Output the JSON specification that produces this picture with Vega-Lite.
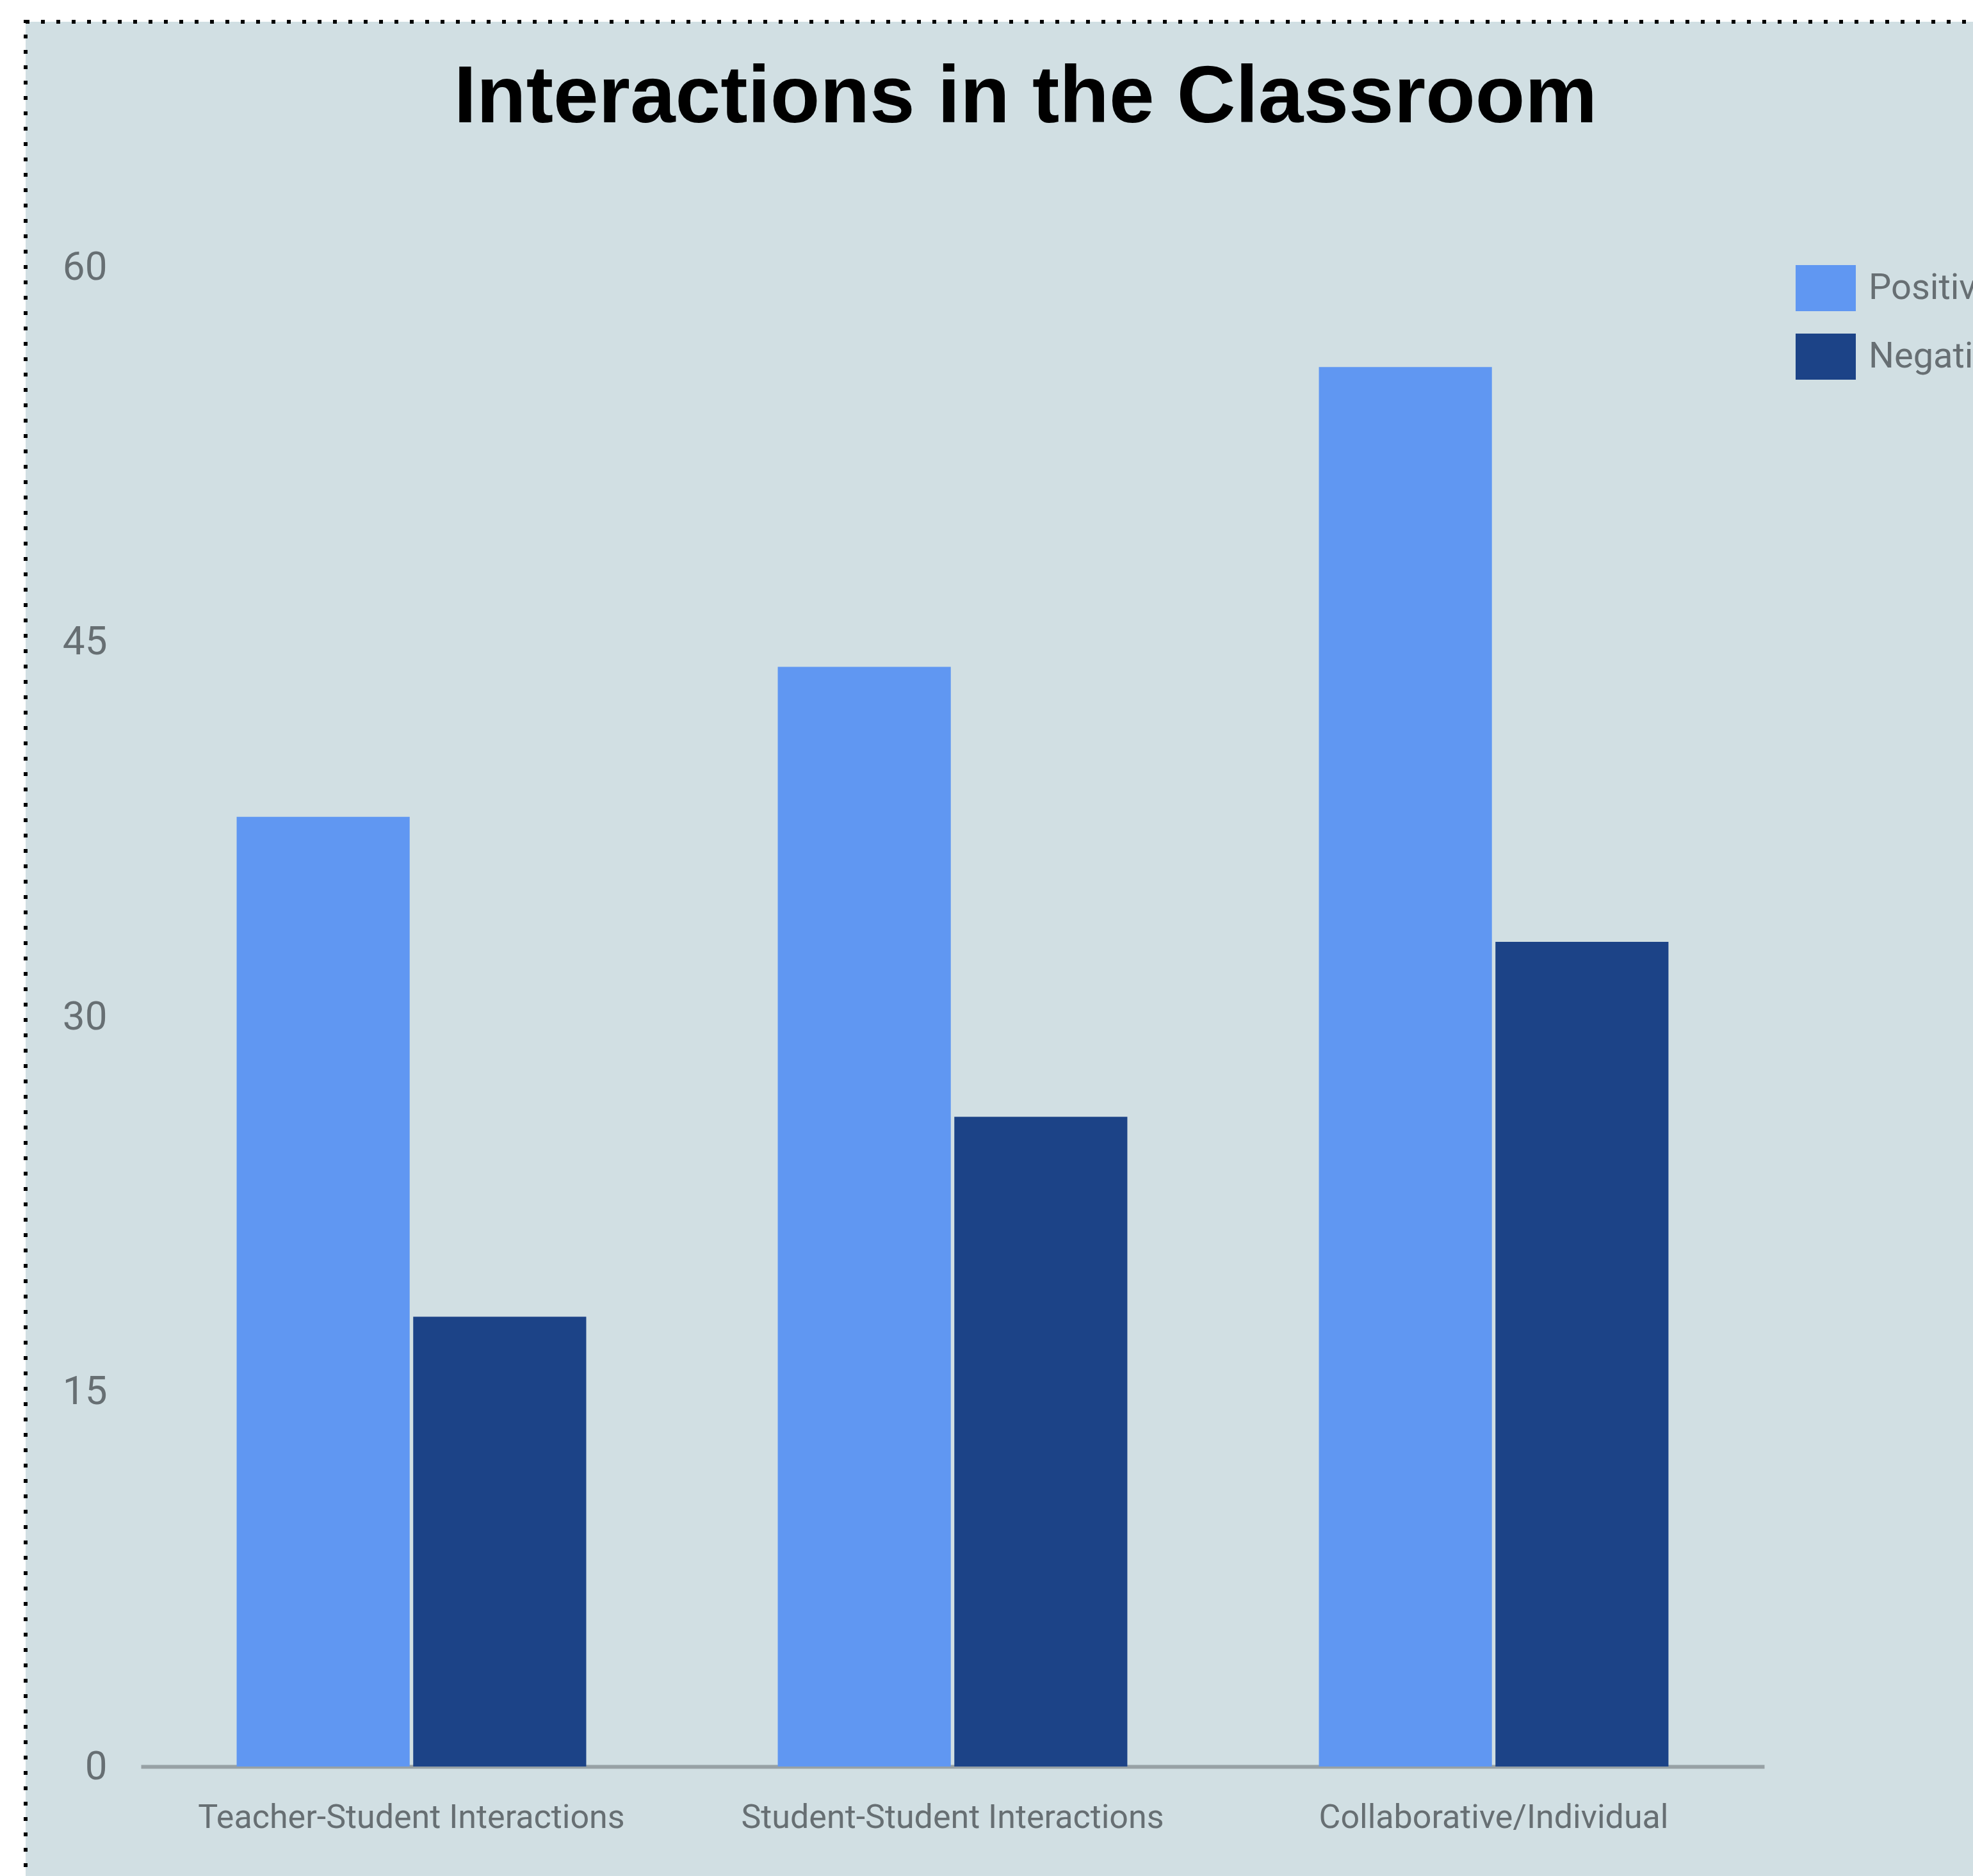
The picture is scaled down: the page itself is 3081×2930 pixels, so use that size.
{
  "$schema": "https://vega.github.io/schema/vega-lite/v6.json",
  "autosize": "none",
  "padding": {"left": 40, "top": 34, "right": 0, "bottom": 0},
  "width": 3061,
  "height": 2916,
  "background": "white",
  "title": {
    "text": "Interactions in the Classroom",
    "font": "Liberation Sans",
    "fontWeight": "bold",
    "fontSize": 127,
    "color": "black",
    "anchor": "middle",
    "offset": -184,
    "dx": 31
  },
  "data": {
    "values": [
      {"category": "Teacher-Student Interactions", "type": "Positive", "value": 38},
      {"category": "Teacher-Student Interactions", "type": "Negative", "value": 18},
      {"category": "Student-Student Interactions", "type": "Positive", "value": 44},
      {"category": "Student-Student Interactions", "type": "Negative", "value": 26},
      {"category": "Collaborative/Individual", "type": "Positive", "value": 56},
      {"category": "Collaborative/Individual", "type": "Negative", "value": 33}
    ]
  },
  "mark": {"type": "bar"},
  "encoding": {
    "x": {
      "field": "category",
      "type": "nominal",
      "sort": ["Teacher-Student Interactions", "Student-Student Interactions", "Collaborative/Individual"],
      "scale": {"range": [180, 2715], "paddingInner": 0.354, "paddingOuter": 0.177},
      "axis": {
        "title": null,
        "offset": -191,
        "domainColor": "#97a1a5",
        "domainWidth": 6,
        "ticks": false,
        "grid": false,
        "labelAngle": 0,
        "labelFont": "Roboto",
        "labelFontSize": 52,
        "labelColor": "#676f73",
        "labelPadding": 54,
        "labelLimit": 0
      }
    },
    "xOffset": {
      "field": "type",
      "sort": ["Positive", "Negative"],
      "scale": {"paddingInner": 0.02, "paddingOuter": 0}
    },
    "y": {
      "field": "value",
      "type": "quantitative",
      "scale": {"domain": [0, 60], "range": [2725, 383], "nice": false},
      "axis": {
        "title": null,
        "offset": -180,
        "values": [0, 15, 30, 45, 60],
        "domain": false,
        "ticks": false,
        "grid": false,
        "labelFont": "Roboto",
        "labelFontSize": 62,
        "labelColor": "#676f73",
        "labelPadding": 53
      }
    },
    "color": {
      "field": "type",
      "type": "nominal",
      "scale": {"domain": ["Positive", "Negative"], "range": ["#6097f2", "#1c4387"]},
      "legend": {
        "title": null,
        "orient": "none",
        "legendX": 2764,
        "legendY": 369,
        "padding": 0,
        "symbolType": "M-1,-0.766H1V0.766H-1Z",
        "symbolSize": 8836,
        "symbolStrokeWidth": 0,
        "symbolOpacity": 1,
        "labelFont": "Roboto",
        "labelFontSize": 56,
        "labelColor": "#676f73",
        "labelOffset": 20,
        "rowPadding": 23,
        "labelLimit": 0
      }
    }
  },
  "config": {
    "view": {
      "fill": "#d1dfe3",
      "stroke": "black",
      "strokeWidth": 6,
      "strokeDash": [6, 18]
    }
  }
}
